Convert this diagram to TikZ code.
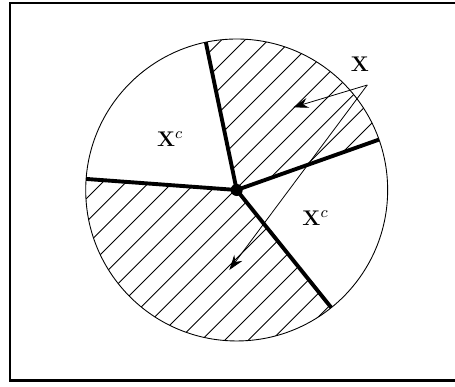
\documentclass[tikz,border=0pt]{standalone}
\usepackage{tikz}
\usetikzlibrary{positioning,arrows.meta}

\begin{document}
\begin{tikzpicture}[font=\fontsize{13}{15}\selectfont,
      hatch/.style={line width=0.5pt},
      wall/.style={line width=2.2pt},
      lbl/.style={inner sep=1pt},
      ptr/.style={line width=0.45pt,-{Stealth[length=3mm,width=2mm,inset=1mm]}}]
      \useasboundingbox[fill=white] (-4.703,-3.914) rectangle (4.338,3.775);
      \draw[line width=1.2pt] (-4.505,-3.785) rectangle (5,3.716);
      % hatched wedges
      \begin{scope}
        \clip (0,0) -- (19.5:3) arc (19.5:101.8:3) -- cycle;
        \foreach \k in {-10,...,10} \draw[hatch] (\k*0.464-0.033-4,-4) -- ++(8,8);
      \end{scope}
      \begin{scope}
        \clip (0,0) -- (175.8:3) arc (175.8:308.8:3) -- cycle;
        \foreach \k in {-10,...,10} \draw[hatch] (\k*0.464-0.033-4,-4) -- ++(8,8);
      \end{scope}
      \draw[line width=0.5pt] (0,0) circle (3);
      \node[circle,fill,inner sep=0pt,minimum size=0.24cm] (o) at (0,0) {};
      \foreach \a/\n in {101.8/r1,19.5/r2,-51.2/r3,175.8/r4} {
        \coordinate (\n) at (\a:3);
        \draw[wall] (o.center) -- (\n);
      }
      \node[lbl] (x) at (2.45,2.50) {$\mathbf{X}$};
      \node[lbl] (xc1) at (-1.325,1.013) {$\mathbf{X}^c$};
      \node[lbl] (xc2) at (1.566,-0.556) {$\mathbf{X}^c$};
      \coordinate (apex) at (2.595,2.086);
      \coordinate (t1) at (1.125,1.643);
      \coordinate (t2) at (-0.147,-1.590);
      \draw[ptr] (apex) -- (t1);
      \draw[ptr] (apex) -- (t2);
    \end{tikzpicture}
\end{document}
